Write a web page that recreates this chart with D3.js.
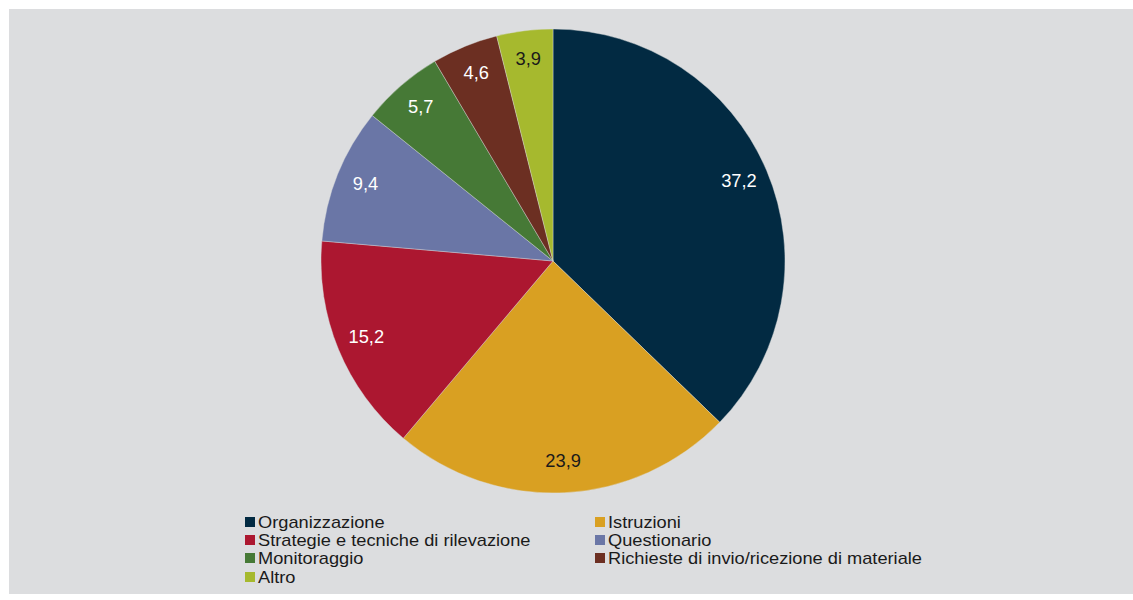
<!DOCTYPE html>
<html><head><meta charset="utf-8">
<script src="https://cdnjs.cloudflare.com/ajax/libs/d3/7.8.5/d3.min.js"></script>
<style>html,body{margin:0;padding:0;background:#fff;}svg{display:block;font-family:"Liberation Sans",Arial,sans-serif;}</style>
</head><body>
<svg id="c" width="1133" height="600"></svg>
<script>
const categories = ["Organizzazione","Istruzioni","Strategie e tecniche di rilevazione","Questionario","Monitoraggio","Richieste di invio/ricezione di materiale","Altro"];
const values = [37.2, 23.9, 15.2, 9.4, 5.7, 4.6, 3.9];
const labels = ["37,2","23,9","15,2","9,4","5,7","4,6","3,9"];
const colors = ["#022a42","#d9a022","#ac1730","#6a76a6","#467936","#6c2f22","#a6b92e"];
const labelColors = ["#ffffff","#1a1a1a","#ffffff","#ffffff","#ffffff","#ffffff","#1a1a1a"];

const svg = d3.select("#c");
svg.append("rect").attr("x",9).attr("y",9).attr("width",1124).attr("height",585).attr("fill","#dcdddf");

const cx = 553, cy = 261, R = 232;
const g = svg.append("g").attr("transform",`translate(${cx},${cy})`);
const pie = d3.pie().sort(null).value(d=>d);
const arcs = pie(values);
const arc = d3.arc().innerRadius(0).outerRadius(R);
const labelArc = d3.arc().innerRadius(202).outerRadius(202);

g.selectAll("path").data(arcs).join("path")
  .attr("d",arc).attr("fill",(d,i)=>colors[i])
  .attr("stroke","#dcdddf").attr("stroke-width",0.4);

g.selectAll("text").data(arcs).join("text")
  .attr("transform",d=>{const c=labelArc.centroid(d);return `translate(${c[0]},${c[1]-2})`;})
  .attr("text-anchor","middle").attr("dy","0.36em")
  .attr("font-size",18.3).attr("fill",(d,i)=>labelColors[i])
  .text((d,i)=>labels[i]);

const leg = svg.append("g");
const colX = [245, 595];
const rowY = [522, 540, 558, 577];
categories.forEach((c,i)=>{
  const col = i%2, row = Math.floor(i/2);
  const gi = leg.append("g").attr("transform",`translate(${colX[col]},${rowY[row]})`);
  gi.append("rect").attr("x",0).attr("y",-5).attr("width",10).attr("height",10).attr("fill",colors[i]);
  gi.append("text").attr("transform","translate(13,0) scale(1.14,1)").attr("dy","0.36em")
    .attr("font-size",16).attr("fill","#1a1a1a").text(c);
});
</script>
</body></html>
